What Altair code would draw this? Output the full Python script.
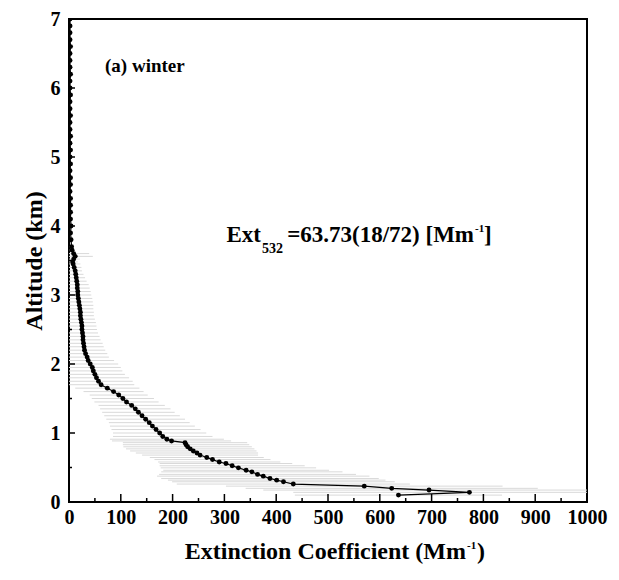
import altair as alt
import pandas as pd

# ---- data ----
altitude_km = [
    7.0, 6.9, 6.8, 6.7, 6.6, 6.5, 6.4, 6.3, 6.2, 6.1, 6.0, 5.9, 5.8, 5.7, 5.6, 5.5,
    5.4, 5.3, 5.2, 5.1, 5.0, 4.9, 4.8, 4.7, 4.6, 4.5, 4.4, 4.3, 4.2, 4.1, 4.0, 3.9,
    3.8, 3.7, 3.65, 3.6, 3.56, 3.52, 3.48,
    3.45, 3.40, 3.35, 3.30, 3.25, 3.20, 3.15, 3.10, 3.05, 3.00, 2.95, 2.90, 2.85,
    2.80, 2.75, 2.70, 2.65, 2.60, 2.55, 2.50, 2.45, 2.40, 2.35, 2.30, 2.25, 2.20,
    2.15, 2.10, 2.05, 2.00, 1.95, 1.90, 1.85, 1.80, 1.75, 1.70, 1.65, 1.60, 1.55,
    1.50, 1.45, 1.40, 1.35, 1.30, 1.25, 1.20, 1.15, 1.10, 1.05, 1.00, 0.95, 0.91,
    0.885, 0.86, 0.83, 0.80, 0.77, 0.74, 0.71, 0.68, 0.645, 0.615, 0.58, 0.558,
    0.525, 0.495, 0.46, 0.437, 0.40, 0.375, 0.34, 0.317, 0.293, 0.26, 0.23, 0.198,
    0.173, 0.14, 0.10,
]
extinction = [
    2, 2, 2, 2, 3, 2, 2, 2, 3, 2, 2, 3, 2, 2, 3, 2,
    2, 3, 2, 3, 2, 3, 2, 3, 3, 2, 3, 3, 3, 3, 4, 3,
    4, 5, 6, 9, 12, 9, 7,
    8, 10, 12, 13, 14, 15, 16, 16, 17, 17, 18, 19, 20,
    21, 22, 22, 23, 24, 25, 25, 26, 27, 27, 28, 29, 30,
    32, 35, 37, 41, 45, 47, 50, 53, 57, 62, 74, 86, 96,
    104, 111, 121, 128, 134, 141, 148, 155, 161, 168, 175, 181, 189,
    198, 224, 226, 229, 234, 240, 247, 253, 266, 277, 290, 303,
    315, 327, 342, 353, 364, 375, 388, 401, 414, 433, 570, 623,
    695, 773, 636,
]
std_dev = [
    2, 2, 2, 3, 2, 2, 3, 2, 2, 2, 3, 2, 2, 2, 3, 2,
    2, 2, 3, 2, 2, 3, 2, 2, 3, 3, 2, 3, 3, 3, 3, 3,
    4, 4, 5, 30, 34, 12, 10,
    14, 14, 13, 15, 17, 19, 22, 24, 25, 26, 27, 27, 27,
    26, 26, 26, 27, 28, 28, 29, 30, 32, 34, 37, 38, 40,
    42, 42, 50, 54, 55, 56, 58, 63, 66, 64, 62, 58, 56,
    60, 62, 64, 68, 70, 73, 76, 78, 82, 86, 90, 96, 110,
    115, 120, 122, 124, 124, 122, 118, 112, 110, 112, 118, 128,
    140, 150, 160, 175, 190, 205, 210, 210, 215, 225, 267, 282,
    320, 340, 200,
]

x_major = [0, 100, 200, 300, 400, 500, 600, 700, 800, 900, 1000]
x_minor = [50, 150, 250, 350, 450, 550, 650, 750, 850, 950]
y_major = [0, 1, 2, 3, 4, 5, 6, 7]
y_minor = [0.5, 1.5, 2.5, 3.5, 4.5, 5.5, 6.5]

panel_label = ["(a) winter"]
ann_main = ["Ext"]
ann_sub = ["532"]
ann_rest = ["=63.73(18/72) [Mm"]
ann_sup = ["-1"]
ann_close = ["]"]
xtitle_main = ["Extinction Coefficient (Mm"]
xtitle_sup = ["-1"]
xtitle_close = [")"]

# ---- build ----
df = pd.DataFrame({"alt": altitude_km, "ext": extinction, "std": std_dev})
df["lo"] = df["ext"] - df["std"]
df["hi"] = df["ext"] + df["std"]
df["order"] = range(len(df))

TOP = 11
W, H = 518, 483
FONT = "Liberation Serif"
xs = alt.Scale(domain=[0, 1000], nice=False)
ys = alt.Scale(domain=[0, 7], nice=False)

AX = alt.Axis(
    values=x_major, format="d", title=None, grid=False, domain=False, ticks=False,
    labelFont=FONT, labelFontWeight="bold", labelFontSize=20, labelColor="black",
    labelPadding=5, labelFlush=False)
AY = alt.Axis(
    values=y_major, format="d", title="Altitude (km)", grid=False, domain=False, ticks=False,
    labelFont=FONT, labelFontWeight="bold", labelFontSize=20, labelColor="black",
    labelPadding=9, labelFlush=False,
    titleFont=FONT, titleFontWeight="bold", titleFontSize=24, titleColor="black",
    titlePadding=4)


def X(field):
    return alt.X(field, scale=xs, axis=AX, title=None)


def Y(field):
    return alt.Y(field, scale=ys, axis=AY, title="Altitude (km)")


base = alt.Chart(df)

err = base.mark_rule(color="#d9d9d9", strokeWidth=1, clip=True).encode(
    x=X("lo:Q"), x2="hi:Q", y=Y("alt:Q"))

line = base.mark_line(color="black", strokeWidth=1.2, clip=True).encode(
    x=X("ext:Q"), y=Y("alt:Q"), order="order:Q")

pts = base.mark_circle(color="black", size=24, opacity=1, clip=True).encode(
    x=X("ext:Q"), y=Y("alt:Q"))


def tick_layer(values, channel, length, width):
    d = alt.Chart(pd.DataFrame({"v": values}))
    if channel == "x":
        return d.mark_rule(color="black", strokeWidth=width).encode(
            x=X("v:Q"), y=alt.value(H), y2=alt.value(H - length))
    return d.mark_rule(color="black", strokeWidth=width).encode(
        y=Y("v:Q"), x=alt.value(0), x2=alt.value(length))


def text_layer(texts, x, y, size, align="left"):
    return alt.Chart(pd.DataFrame({"t": texts})).mark_text(
        font=FONT, fontWeight="bold", fontSize=size, color="black",
        align=align, baseline="alphabetic").encode(
        x=alt.value(x), y=alt.value(y), text="t:N")


# text positions are relative to the plot area's top-left corner (69, 19)
layers = [
    err, line, pts,
    tick_layer(x_major, "x", 8, 1.5), tick_layer(x_minor, "x", 4, 1.5),
    tick_layer(y_major, "y", 6, 1.5), tick_layer(y_minor, "y", 3, 1.5),
    text_layer(panel_label, 36, 53, 19),
    text_layer(ann_main, 192, 223, 23, "right"),
    text_layer(ann_sub, 193, 234, 14),
    text_layer(ann_rest, 405, 223, 23, "right"),
    text_layer(ann_sup, 406, 213, 11),
    text_layer(ann_close, 415, 223, 23),
    text_layer(xtitle_main, 397, 540, 24, "right"),
    text_layer(xtitle_sup, 398, 530, 11),
    text_layer(xtitle_close, 408, 540, 24),
]

chart = alt.layer(*layers).properties(
    width=W, height=H,
    padding={"left": 61, "top": TOP, "right": 24, "bottom": 70},
    autosize=alt.AutoSizeParams(type="none"),
).configure_view(stroke="black", strokeWidth=2)

chart.save("out.html", embed_options={"renderer": "svg", "actions": False})
